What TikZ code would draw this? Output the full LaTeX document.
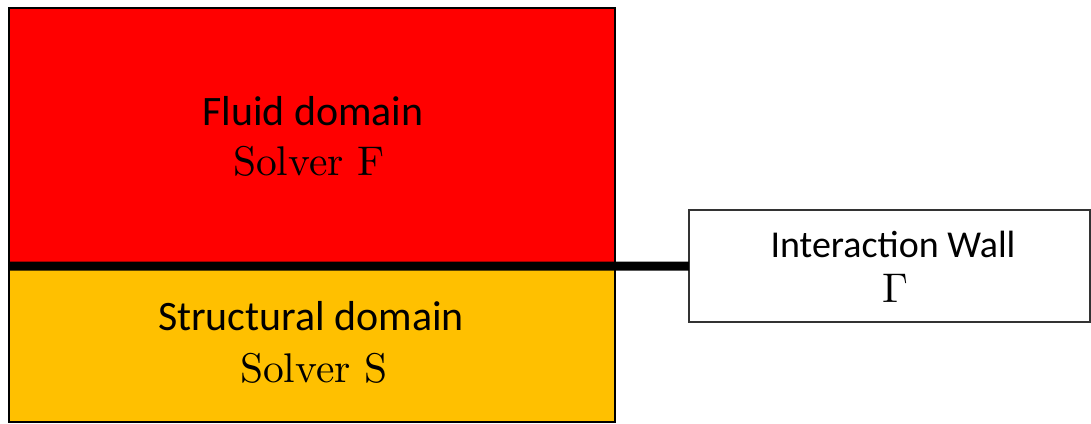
\documentclass[tikz,border=0pt]{standalone}
\usepackage{fontspec}
\newfontfamily\calibri{Carlito}
\usetikzlibrary{positioning}
\definecolor{fluidRed}{HTML}{FF0000}
\definecolor{solidGold}{HTML}{FFC000}
\colorlet{wallEdge}{black!80}
\tikzstyle{domainBox}=[rectangle,draw=black,line width=1.4pt,outer sep=0pt,inner sep=0pt]
\tikzstyle{fluidBox}=[domainBox,fill=fluidRed,minimum width=15.15cm,minimum height=6.45cm]
\tikzstyle{solidBox}=[domainBox,fill=solidGold,minimum width=15.15cm,minimum height=3.9cm]
\tikzstyle{wallBox}=[rectangle,draw=wallEdge,line width=1.4pt,fill=white,outer sep=0pt,minimum width=10.025cm,minimum height=2.8cm]
\tikzstyle{domainLabel}=[anchor=base,inner sep=0pt,font=\calibri\fontsize{29.8}{34}\selectfont]
\tikzstyle{wallLabel}=[anchor=base,inner sep=0pt,font=\calibri\fontsize{27}{32}\selectfont]
\tikzstyle{solverLabel}=[anchor=base,inner sep=0pt,font=\fontsize{10}{12}\selectfont,scale=2.95]

\begin{document}
\begin{tikzpicture}[x=0.025cm,y=-0.025cm]
\useasboundingbox (0,0) rectangle (1091,423);
        % the two domains
        \node[fluidBox] (fluid) at (312,137) {};
        \node[solidBox] (solid) at (312,344) {};
        \node[wallBox] (wall) at (889.5,266) {};
        % interface line
        \draw[line width=6.4pt,line cap=butt] (fluid.south west) -- (wall.west);
        % labels
        \node[domainLabel] (fluidName) at (313,125) {Fluid domain};
        \node[solverLabel] (fluidSolver) at (309,175) {Solver F};
        \node[domainLabel] (solidName) at (311,330) {Structural domain};
        \node[solverLabel] (solidSolver) at (314,382) {Solver S};
        \node[wallLabel] (wallName) at (893,257) {Interaction Wall};
        \node[solverLabel] (wallSymbol) at (895,302) {\(\Gamma\)};
\end{tikzpicture}
\end{document}
